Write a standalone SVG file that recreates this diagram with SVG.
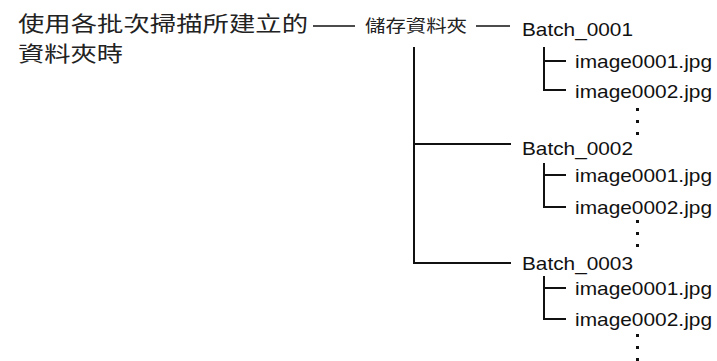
<svg xmlns="http://www.w3.org/2000/svg" width="717" height="361" viewBox="0 0 717 361">
<style>
.cjk{font-family:"Noto Sans CJK TC","Noto Sans CJK SC",sans-serif;fill:#222}
.lat{font-family:"Liberation Sans",Arial,sans-serif;fill:#111;font-size:19px}
.ln{stroke:#111;stroke-width:2;fill:none}
.dash{stroke:#111;stroke-width:1.6;fill:none}
.dot{fill:#111}
</style>
<rect width="717" height="361" fill="#fff"/>
<g id="title">
<text class="cjk" x="18" y="30.5" font-size="21" textLength="290" lengthAdjust="spacingAndGlyphs">使用各批次掃描所建立的</text>
<text class="cjk" x="18" y="61" font-size="21" textLength="105" lengthAdjust="spacingAndGlyphs">資料夾時</text>
</g>
<g id="root">
<text class="cjk" x="365" y="32" font-size="17" textLength="102" lengthAdjust="spacingAndGlyphs">儲存資料夾</text>
</g>
<g id="batch1">
<text class="lat" x="522" y="36" textLength="111" lengthAdjust="spacingAndGlyphs">Batch_0001</text>
<text class="lat" x="575" y="68" textLength="137" lengthAdjust="spacingAndGlyphs">image0001.jpg</text>
<text class="lat" x="575" y="98" textLength="137" lengthAdjust="spacingAndGlyphs">image0002.jpg</text>
<rect class="dot" x="636" y="108" width="3" height="3"/>
<rect class="dot" x="636" y="120" width="3" height="3"/>
<rect class="dot" x="636" y="132" width="3" height="3"/>
</g>
<g id="batch2">
<text class="lat" x="522" y="155" textLength="111" lengthAdjust="spacingAndGlyphs">Batch_0002</text>
<text class="lat" x="575" y="182" textLength="137" lengthAdjust="spacingAndGlyphs">image0001.jpg</text>
<text class="lat" x="575" y="214" textLength="137" lengthAdjust="spacingAndGlyphs">image0002.jpg</text>
<rect class="dot" x="636" y="220" width="3" height="3"/>
<rect class="dot" x="636" y="232" width="3" height="3"/>
<rect class="dot" x="636" y="244" width="3" height="3"/>
</g>
<g id="batch3">
<text class="lat" x="522" y="270" textLength="111" lengthAdjust="spacingAndGlyphs">Batch_0003</text>
<text class="lat" x="575" y="295" textLength="137" lengthAdjust="spacingAndGlyphs">image0001.jpg</text>
<text class="lat" x="575" y="326" textLength="137" lengthAdjust="spacingAndGlyphs">image0002.jpg</text>
<rect class="dot" x="636" y="334" width="3" height="3"/>
<rect class="dot" x="636" y="346" width="3" height="3"/>
<rect class="dot" x="636" y="358" width="3" height="3"/>
</g>
<g id="connectors">
<line class="dash" x1="313" y1="26" x2="355" y2="26"/>
<line class="dash" x1="476" y1="26" x2="510" y2="26"/>
<path class="ln" d="M414 47 V263 H511"/>
<line class="ln" x1="414" y1="144" x2="511" y2="144"/>
<path class="ln" d="M544 47 V90 H566 M544 61 H566"/>
<path class="ln" d="M544 163 V207 H566 M544 175 H566"/>
<path class="ln" d="M544 276 V319 H566 M544 288 H566"/>
</g>
</svg>
